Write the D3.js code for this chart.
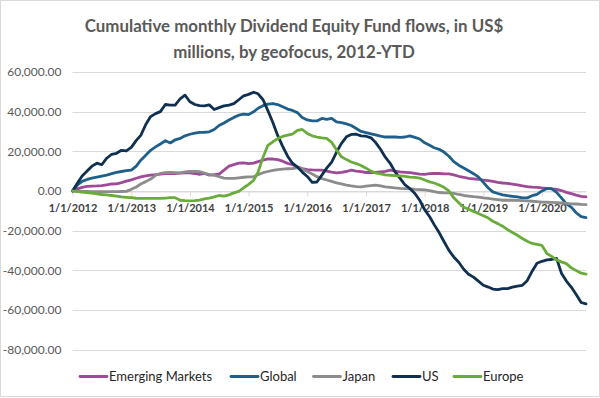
<!DOCTYPE html>
<html>
<head>
<meta charset="utf-8">
<script src="https://cdn.jsdelivr.net/npm/d3@7"></script>
<style>
  html, body { margin: 0; padding: 0; background: #fff; }
  svg { display: block; font-family: Lato, "Open Sans", sans-serif; }
</style>
</head>
<body>
<svg id="chart" width="600" height="398"></svg>
<script>
// ---------- DATA (US$ millions, monthly from Jan 2012) ----------
const startMonth = "2012-01-01";
const seriesNames = ["Emerging Markets", "Global", "Japan", "US", "Europe"];
const seriesColors = ["#9e4a97", "#1f5f8b", "#8c8c8c", "#0f3050", "#6aac3c"];
const yTicks = [-80000, -60000, -40000, -20000, 0, 20000, 40000, 60000];
const xTickYears = [2012, 2013, 2014, 2015, 2016, 2017, 2018, 2019, 2020];
const titleLines = ["Cumulative monthly Dividend Equity Fund flows, in US$", "millions, by geofocus, 2012-YTD"];

const emergingMarkets = [0,1000,1800,2300,2400,2500,2700,3100,3500,3600,4200,4900,5600,6400,7100,7600,8000,8200,8500,8800,8800,8800,9000,9100,9100,8800,8400,8800,8000,8200,8500,10500,12500,13300,14000,14200,13800,14000,14800,15500,16200,16100,15800,15000,13900,13200,12200,11300,10800,10600,10500,10500,10000,9500,9100,9400,9800,10500,10000,9700,9300,9300,9300,9600,9900,10500,10000,9600,9400,9200,8900,8500,8400,8700,8800,8800,8600,8600,8100,7400,6900,6300,6100,5900,5500,5200,4800,4300,4000,3800,3400,3000,2600,2200,1900,1800,1500,1300,1000,800,200,-700,-1400,-2100,-2700,-3000];
const global = [0,3000,4800,5800,6500,7000,7500,8000,8700,9400,9800,10200,10500,12500,15500,18000,20500,22200,23700,25300,24200,25800,26500,27800,28600,29200,29500,29600,29800,31000,33000,34300,35800,37100,38200,38700,38500,39900,41700,43000,43800,44100,43600,42500,41300,40600,39500,37000,35800,35300,35300,36600,36100,36600,34800,34500,33800,33000,31500,30000,29400,28800,28300,27600,27200,27300,27200,27000,27200,27800,27000,26200,24300,23000,21800,21000,19600,17500,14800,13000,11600,10200,8700,7100,4300,1500,-500,-1300,-2000,-2400,-2700,-3000,-3500,-3500,-2400,-1700,0,1200,1200,-700,-3500,-6500,-8200,-11000,-13000,-13500];
const japan = [0,-200,-300,-300,-400,-400,-400,-400,-400,-400,-300,-200,800,2000,3500,4700,6000,7900,8800,9200,9300,9200,9100,9600,9800,9900,9700,9000,8300,7900,7200,6500,6300,6300,6600,6900,7100,7100,8200,9200,9800,10400,10800,11000,11200,11300,11800,11000,9800,8500,7200,6200,5500,4800,4100,3600,2900,2500,2200,2000,2400,2700,2900,2500,2100,1800,1500,1300,1200,1000,800,700,500,200,-300,-800,-1000,-1000,-1200,-1800,-2300,-2600,-2900,-3100,-3500,-3800,-4100,-4400,-4700,-4700,-4700,-4800,-4900,-5000,-5200,-5400,-5600,-5700,-5800,-5900,-6100,-6300,-6500,-6600,-6800,-6900];
const us = [0,4000,7500,10000,12500,14000,13200,16500,18500,19000,20500,20200,22000,25500,28000,33500,37500,39000,40000,43600,43300,43300,46500,48300,45000,43600,43000,42900,43400,41100,42000,42900,43300,44000,46000,48000,48700,49800,49000,46000,40500,34500,28000,22500,17500,14000,12000,9500,7300,4300,4500,8000,11500,14500,19500,24000,27300,28500,28600,27800,27600,26800,24500,21000,17000,13800,9600,6300,3000,1200,-1300,-4700,-9500,-13000,-17000,-21000,-25500,-30000,-33300,-36000,-39500,-42000,-43500,-45500,-47600,-48500,-49500,-49800,-49300,-49300,-48500,-48000,-47600,-45300,-40500,-36500,-35500,-34800,-34600,-34000,-41500,-45500,-48500,-52300,-56300,-57000];
const europe = [0,-300,-600,-900,-1100,-1500,-1800,-2000,-2300,-2600,-3000,-3200,-3400,-3700,-3800,-3800,-3800,-3800,-3800,-3600,-3400,-3400,-4700,-4900,-5000,-4900,-4600,-4000,-3600,-3000,-2300,-2600,-2000,-1000,-200,1500,3300,5300,9500,17000,23000,24800,26400,27500,28200,28700,30500,31000,29000,27800,27200,26800,26500,24500,20800,17200,15800,14600,13800,12800,11500,10000,9100,8600,8100,7900,7700,7600,7300,7000,6800,6500,5500,4600,4000,3000,1800,0,-3500,-6000,-8200,-9200,-10300,-11400,-12500,-13700,-15300,-16500,-17800,-19500,-21000,-22400,-24000,-25400,-26500,-27000,-27500,-31600,-33000,-34800,-35800,-36700,-38800,-40200,-41500,-42000];

const seriesValues = [emergingMarkets, global, japan, us, europe];

// ---------- CHART ----------
const svg = d3.select("#chart");
const W = 600, H = 398;
const plot = { left: 72.5, right: 586, top: 72, bottom: 349.5 };

svg.append("rect").attr("x", 0.5).attr("y", 0.5).attr("width", W - 1).attr("height", H - 2)
  .attr("fill", "#fff").attr("stroke", "#d9d9d9");

const start = d3.timeParse("%Y-%m-%d")(startMonth);
const months = d3.range(emergingMarkets.length).map(i => d3.timeMonth.offset(start, i));

const x = d3.scaleTime().domain([months[0], months[months.length - 1]]).range([plot.left, plot.right]);
const y = d3.scaleLinear().domain([-80000, 60000]).range([plot.bottom, plot.top]);

const loc = d3.formatLocale({ decimal: ".", thousands: ",", grouping: [3], currency: ["$", ""], minus: "-" });
const yFmt = loc.format(",.2f");

// gridlines
svg.append("g").selectAll("line").data(yTicks).join("line")
  .attr("x1", plot.left).attr("x2", plot.right)
  .attr("y1", d => Math.round(y(d)) + 0.5).attr("y2", d => Math.round(y(d)) + 0.5)
  .attr("stroke", "#d9d9d9").attr("stroke-width", 1);

// y axis labels
const yAxis = d3.axisLeft(y).tickValues(yTicks).tickFormat(yFmt).tickSize(0).tickPadding(0);
const yg = svg.append("g").attr("transform", `translate(${plot.left - 11},0)`).call(yAxis);
yg.select(".domain").remove();
yg.selectAll("text").attr("fill", "#595959").style("font-size", "12px").style("font-family", "Lato, sans-serif");

// x axis at zero
const xTicks = xTickYears.map(yr => new Date(yr, 0, 1));
const xAxis = d3.axisBottom(x).tickValues(xTicks).tickFormat(d3.timeFormat("%-m/%-d/%Y")).tickSizeInner(5).tickSizeOuter(0).tickPadding(8);
const xg = svg.append("g").attr("transform", `translate(0,${Math.round(y(0)) + 0.5})`).call(xAxis);
xg.select(".domain").attr("stroke", "#d9d9d9");
xg.selectAll(".tick line").attr("stroke", "#d9d9d9");
xg.selectAll("text").attr("fill", "#404040").style("font-size", "11px").style("font-weight", "bold").style("font-family", "Lato, sans-serif");

// lines
const line = d3.line().x((d, i) => x(months[i])).y(d => y(d)).curve(d3.curveLinear);
svg.append("g").selectAll("path").data(seriesValues).join("path")
  .attr("d", d => line(d))
  .attr("fill", "none")
  .attr("stroke", (d, i) => seriesColors[i])
  .attr("stroke-width", 2.8)
  .attr("stroke-linejoin", "round")
  .attr("stroke-linecap", "round");

// title
const title = svg.append("text").attr("text-anchor", "middle")
  .attr("fill", "#595959").style("font-weight", "bold").style("font-size", "16px");
title.selectAll("tspan").data(titleLines).join("tspan")
  .attr("x", 294).attr("y", (d, i) => 31.5 + i * 26).text(d => d);
// fit first line to reference width (~419px)
const firstLen = title.select("tspan").node().getComputedTextLength();
if (firstLen > 0) title.style("font-size", (16 * 419 / firstLen).toFixed(2) + "px");

// legend
const legendX = [80, 231, 313.5, 393, 454];
const lg = svg.append("g").selectAll("g").data(seriesNames).join("g")
  .attr("transform", (d, i) => `translate(${legendX[i]},376.5)`);
lg.append("line").attr("x1", 0).attr("x2", 27).attr("y1", 0).attr("y2", 0)
  .attr("stroke", (d, i) => seriesColors[i]).attr("stroke-width", 2.8).attr("stroke-linecap", "round");
lg.append("text").attr("x", 29).attr("dy", "0.35em").attr("fill", "#262626")
  .style("font-size", "13px").text(d => d);
</script>
</body>
</html>
